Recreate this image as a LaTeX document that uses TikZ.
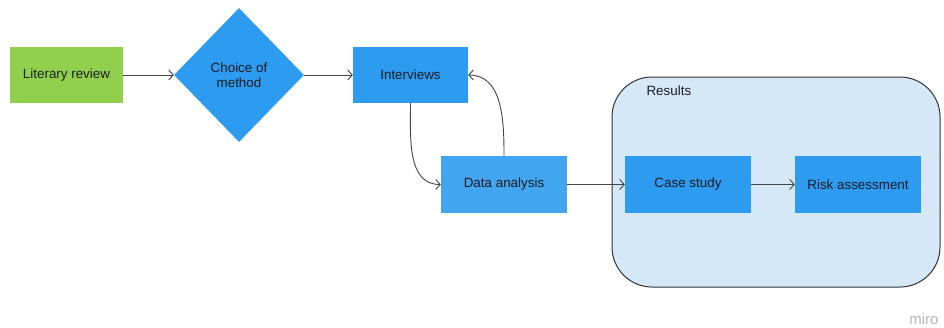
\documentclass[tikz,border=0pt]{standalone}
\usepackage{fontspec}
\setmainfont{Liberation Sans}
\usetikzlibrary{shapes.geometric,arrows.meta}
\definecolor{mirogreen}{HTML}{91D04D}
\definecolor{miroblue}{HTML}{2D9BF0}
\definecolor{mirolight}{HTML}{42A5F0}
\definecolor{miropale}{HTML}{D5E8F8}
\definecolor{mirotext}{HTML}{1C1C24}
\definecolor{miroline}{HTML}{444444}
\definecolor{mirogray}{HTML}{B4B4BE}
\tikzstyle{stepgreen}=[rectangle,fill=mirogreen,minimum width=113pt,minimum height=56pt,inner sep=0pt,text=mirotext,font=\fontsize{13.4}{15.5}\selectfont]
\tikzstyle{stepblue}=[rectangle,fill=miroblue,minimum width=115pt,minimum height=56pt,inner sep=0pt,text=mirotext,font=\fontsize{13.4}{15.5}\selectfont]
\tikzstyle{steplight}=[stepblue,fill=mirolight,minimum width=126pt,minimum height=57pt]
\tikzstyle{choice}=[diamond,fill=miroblue,minimum width=130pt,minimum height=134pt,inner sep=0pt,align=center,text=mirotext,font=\fontsize{13.4}{15.5}\selectfont]
\tikzstyle{link}=[draw=miroline,line width=0.9pt,-{Straight Barb[length=4.5pt,width=10pt]}]

\begin{document}
\begin{tikzpicture}[x=1pt,y=-1pt]
    \useasboundingbox (0,0) rectangle (944,327);
    % results frame
    \draw[fill=miropale,draw=black!80,line width=1pt,rounded corners=40pt] (612,77) rectangle (940,287);
    \node[anchor=west,text=mirotext,font=\fontsize{13.4}{15.5}\selectfont] (res) at (643,91) {Results};

    \node[stepgreen] (lit) at (66.5,75)  {Literary review};
    \node[choice]    (cho) at (239,75)   {Choice of\\method};
    \node[stepblue]  (int) at (410.5,75) {Interviews};
    \node[steplight] (dat) at (504,184.5) {Data analysis};
    \node[steplight,fill=miroblue] (cas) at (688,184.5) {Case study};
    \node[steplight,fill=miroblue] (ris) at (858,184.5) {Risk assessment};

    \draw[link] (lit) -- (cho);
    \draw[link] (cho) -- (int);
    \draw[link] (int.south) to[out=-90,in=180] (dat.west);
    \draw[link] (dat.north) to[out=90,in=0] (int.east);
    \draw[link] (dat) -- (cas);
    \draw[link] (cas) -- (ris);

    \node[anchor=east,text=mirogray,font=\fontsize{15}{17}\selectfont] (miro) at (942,319) {miro};
\end{tikzpicture}
\end{document}
